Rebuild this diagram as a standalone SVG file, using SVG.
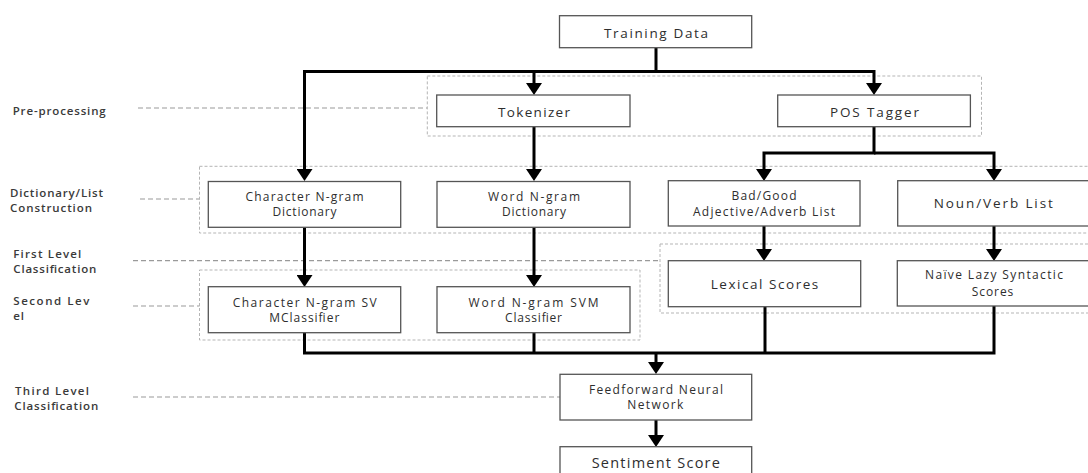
<svg xmlns="http://www.w3.org/2000/svg" width="1088" height="473" viewBox="0 0 1088 473">
<style>
.bg{fill:#ffffff}
.box{fill:#ffffff;stroke:#555555;stroke-width:1.3}
.grp{fill:none;stroke:#b5b5b5;stroke-width:1;stroke-dasharray:3,2}
.lvl{fill:none;stroke:#9a9a9a;stroke-width:1.2;stroke-dasharray:5,3}
.con{fill:none;stroke:#000000;stroke-width:3;stroke-linejoin:miter;stroke-linecap:butt}
.t{font-family:"Open Sans","Liberation Sans",sans-serif;fill:#2e2e2e;text-anchor:middle}
.t12{font-size:12px}
.t13{font-size:13.5px}
.t14{font-size:14.5px}
.lab{font-family:"Open Sans","Liberation Sans",sans-serif;font-size:11.5px;font-weight:600;fill:#3a3a3a}
</style>
<defs>
<marker id="ah" markerUnits="userSpaceOnUse" markerWidth="12" markerHeight="16" viewBox="0 0 12 16" refX="4" refY="8" orient="auto">
<path d="M0,0 L12,8 L0,16 Z" fill="#000000"/>
</marker>
</defs>
<rect class="bg" x="0" y="0" width="1088" height="473"/>

<g id="level-lines">
<line class="lvl" x1="138" y1="108" x2="427" y2="108"/>
<line class="lvl" x1="140" y1="199" x2="199.5" y2="199"/>
<line class="lvl" x1="133" y1="260.7" x2="660" y2="260.7"/>
<line class="lvl" x1="133" y1="306" x2="199.5" y2="306"/>
<line class="lvl" x1="133" y1="397" x2="560" y2="397"/>
</g>

<g id="groups">
<rect id="grp-preprocessing" class="grp" x="427.3" y="76" width="554.2" height="60"/>
<rect id="grp-dictionary" class="grp" x="199.5" y="166.3" width="900" height="66.7"/>
<rect id="grp-second" class="grp" x="199.5" y="270" width="440.5" height="70"/>
<rect id="grp-first" class="grp" x="660" y="244" width="440" height="69"/>
</g>

<g id="labels">
<text class="lab" x="12.7" y="114.8" textLength="93" lengthAdjust="spacing">Pre-processing</text>
<text class="lab" x="10" y="197.2" textLength="93" lengthAdjust="spacing">Dictionary/List</text>
<text class="lab" x="10" y="212.3" textLength="82" lengthAdjust="spacing">Construction</text>
<text class="lab" x="13.3" y="258.2" textLength="68" lengthAdjust="spacing">First  Level</text>
<text class="lab" x="13.3" y="273.3" textLength="83" lengthAdjust="spacing">Classification</text>
<text class="lab" x="13.3" y="305" textLength="76" lengthAdjust="spacing">Second  Lev</text>
<text class="lab" x="13.3" y="320" textLength="10.7" lengthAdjust="spacing">el</text>
<text class="lab" x="15" y="395" textLength="74" lengthAdjust="spacing">Third  Level</text>
<text class="lab" x="14.3" y="410" textLength="84" lengthAdjust="spacing">Classification</text>
</g>

<g id="connectors">
<path class="con" d="M656,47.7 V71.5 H304.5 V173" marker-end="url(#ah)"/>
<path class="con" d="M656,71.5 H534 V87" marker-end="url(#ah)"/>
<path class="con" d="M656,71.5 H874 V87" marker-end="url(#ah)"/>
<path class="con" d="M534,126.7 V173" marker-end="url(#ah)"/>
<path class="con" d="M874,126.7 V153 H764 V173" marker-end="url(#ah)"/>
<path class="con" d="M874,153 H994 V173" marker-end="url(#ah)"/>
<path class="con" d="M304.5,227.3 V279" marker-end="url(#ah)"/>
<path class="con" d="M534,227.3 V279" marker-end="url(#ah)"/>
<path class="con" d="M764,226 V253" marker-end="url(#ah)"/>
<path class="con" d="M994,226 V253" marker-end="url(#ah)"/>
<path class="con" d="M304.5,332.7 V353 H994 V306"/>
<path class="con" d="M534,332.7 V353"/>
<path class="con" d="M765,306.7 V353"/>
<path class="con" d="M656,353 V366" marker-end="url(#ah)"/>
<path class="con" d="M656,420 V439" marker-end="url(#ah)"/>
</g>

<g id="training-data">
<rect class="box" x="559.5" y="15.7" width="192.2" height="32"/>
<text class="t t13" x="656" y="37.5" textLength="104" lengthAdjust="spacing">Training  Data</text>
</g>
<g id="tokenizer">
<rect class="box" x="436.7" y="95" width="193.3" height="31.7"/>
<text class="t t13" x="534" y="116.5" textLength="72" lengthAdjust="spacing">Tokenizer</text>
</g>
<g id="pos-tagger">
<rect class="box" x="777.7" y="95" width="192.7" height="31.7"/>
<text class="t t13" x="874.5" y="116.5" textLength="89" lengthAdjust="spacing">POS  Tagger</text>
</g>
<g id="char-dict">
<rect class="box" x="208.3" y="181.5" width="192.4" height="45.8"/>
<text class="t t12" x="304.5" y="201.3" textLength="118" lengthAdjust="spacing">Character  N-gram</text>
<text class="t t12" x="304.5" y="216.3" textLength="64" lengthAdjust="spacing">Dictionary</text>
</g>
<g id="word-dict">
<rect class="box" x="437" y="181.5" width="193" height="45.8"/>
<text class="t t12" x="534" y="201.3" textLength="92" lengthAdjust="spacing">Word  N-gram</text>
<text class="t t12" x="534" y="216.3" textLength="64" lengthAdjust="spacing">Dictionary</text>
</g>
<g id="adj-adv-list">
<rect class="box" x="668.3" y="180.7" width="191.7" height="45.3"/>
<text class="t t12" x="764" y="200.3" textLength="65" lengthAdjust="spacing">Bad/Good</text>
<text class="t t12" x="764" y="216" textLength="142" lengthAdjust="spacing">Adjective/Adverb  List</text>
</g>
<g id="noun-verb-list">
<rect class="box" x="897.7" y="180.7" width="192.3" height="45.3"/>
<text class="t t13" x="993.3" y="207.8" textLength="119" lengthAdjust="spacing">Noun/Verb  List</text>
</g>
<g id="char-svm">
<rect class="box" x="208.3" y="286.7" width="192.4" height="46"/>
<text class="t t12" x="304.7" y="307.3" textLength="144" lengthAdjust="spacing">Character  N-gram  SV</text>
<text class="t t12" x="304.3" y="322.3" textLength="70" lengthAdjust="spacing">MClassifier</text>
</g>
<g id="word-svm">
<rect class="box" x="437" y="286.7" width="193" height="46"/>
<text class="t t12" x="533.5" y="307.3" textLength="130" lengthAdjust="spacing">Word  N-gram  SVM</text>
<text class="t t12" x="533.5" y="322.3" textLength="57" lengthAdjust="spacing">Classifier</text>
</g>
<g id="lexical-scores">
<rect class="box" x="668.3" y="260.7" width="192.4" height="46"/>
<text class="t t13" x="764.5" y="288.8" textLength="107.6" lengthAdjust="spacing">Lexical  Scores</text>
</g>
<g id="naive-lazy-syntactic">
<rect class="box" x="897.3" y="260.7" width="192.7" height="45.3"/>
<text class="t t12" x="994" y="279.3" textLength="138" lengthAdjust="spacing">Naïve  Lazy  Syntactic</text>
<text class="t t12" x="992.5" y="295.5" textLength="41.6" lengthAdjust="spacing">Scores</text>
</g>
<g id="feedforward-nn">
<rect class="box" x="560" y="374.3" width="191.7" height="45.7"/>
<text class="t t12" x="656" y="393.8" textLength="134" lengthAdjust="spacing">Feedforward  Neural</text>
<text class="t t12" x="655.3" y="409.3" textLength="56" lengthAdjust="spacing">Network</text>
</g>
<g id="sentiment-score">
<rect class="box" x="560" y="446.7" width="191.7" height="34"/>
<text class="t t14" x="655.8" y="468.3" textLength="128.3" lengthAdjust="spacing">Sentiment  Score</text>
</g>
</svg>
